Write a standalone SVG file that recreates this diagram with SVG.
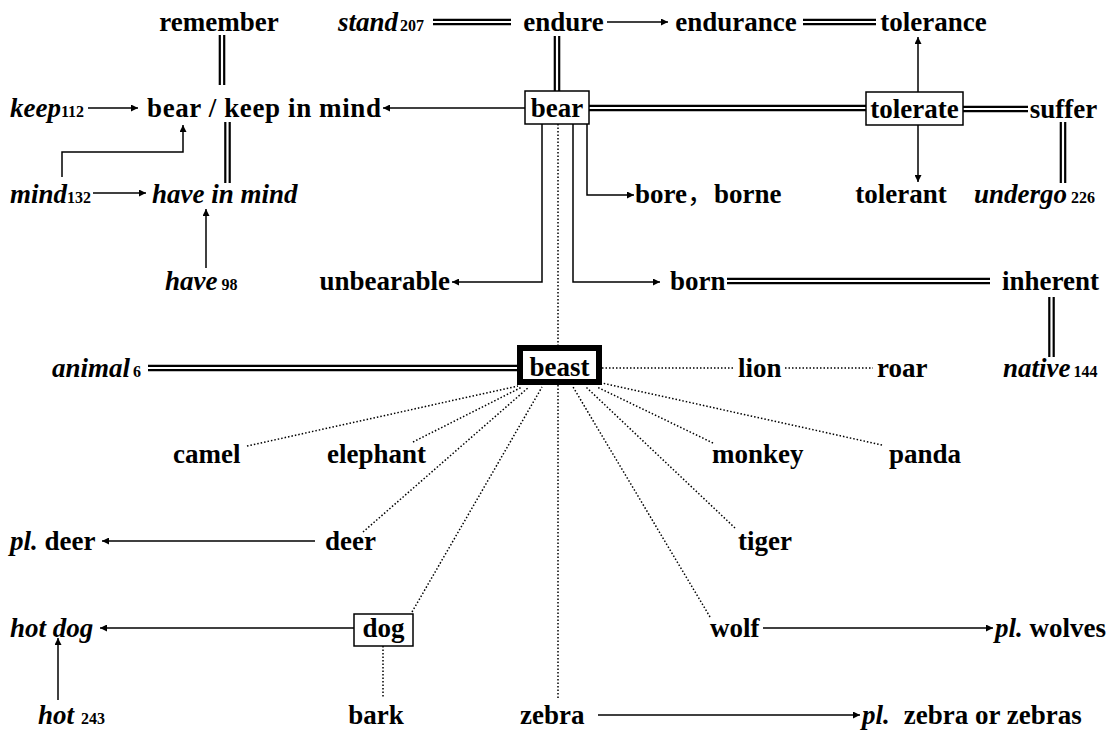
<svg xmlns="http://www.w3.org/2000/svg" width="1109" height="731" viewBox="0 0 1109 731">
<style>
.t{font-family:"Liberation Serif","Times New Roman",serif;font-weight:bold;font-size:27px;fill:#000}
.i{font-style:italic}
.n{font-size:16px;font-style:normal}
.ln{stroke:#000;stroke-width:1.5;fill:none}
.dl{stroke:#000;stroke-width:2.2;fill:none}
.dot{stroke:#000;stroke-width:1.5;stroke-dasharray:1.5 2;fill:none}
.box{fill:#fff;stroke:#000;stroke-width:1.5}
.arr{marker-end:url(#ah)}
</style>
<defs>
<marker id="ah" viewBox="0 0 10 10" refX="10" refY="5" markerWidth="8" markerHeight="7" markerUnits="userSpaceOnUse" orient="auto">
<path d="M0,0 L10,5 L0,10 z" fill="#000"/>
</marker>
</defs>
<rect width="1109" height="731" fill="#fff"/>
<g id="connectors">
<path class="dl" d="M433 19.8H511M433 24.2H511"/>
<path class="dl" d="M803 19.8H876M803 24.2H876"/>
<path class="dl" d="M589 105.8H866M589 110.2H866"/>
<path class="dl" d="M963 106.8H1028M963 111.2H1028"/>
<path class="dl" d="M727 278.8H990M727 283.2H990"/>
<path class="dl" d="M148 365.8H517M148 370.2H517"/>
<path class="dl" d="M219.8 35V85M224.2 35V85"/>
<path class="dl" d="M225.3 122V183M229.7 122V183"/>
<path class="dl" d="M554.8 36V91M559.2 36V91"/>
<path class="dl" d="M1060.8 122V183M1065.2 122V183"/>
<path class="dl" d="M1049.3 297V357M1053.7 297V357"/>
<path class="ln arr" d="M607 22H668"/>
<path class="ln arr" d="M88 108H138"/>
<path class="ln arr" d="M525 108H383"/>
<path class="ln arr" d="M918 92V37"/>
<path class="ln arr" d="M918 125V182"/>
<path class="ln arr" d="M93 193H146"/>
<path class="ln arr" d="M62 177V152H183V125"/>
<path class="ln arr" d="M587 124V195H634"/>
<path class="ln arr" d="M206 268V209"/>
<path class="ln arr" d="M542 124V282H452"/>
<path class="ln arr" d="M573 124V282H660"/>
<path class="ln arr" d="M315 541H102"/>
<path class="ln arr" d="M354 628H100"/>
<path class="ln arr" d="M58 700V638"/>
<path class="ln arr" d="M763 628H993"/>
<path class="ln arr" d="M598 715H860"/>
<path class="dot" d="M558 124V345M558 385V698"/>
<path class="dot" d="M602 368H733M785 368H873"/>
<path class="dot" d="M247 446L518 386"/>
<path class="dot" d="M413 442L522 387"/>
<path class="dot" d="M363 532L529 387"/>
<path class="dot" d="M412 612L542 387"/>
<path class="dot" d="M710 617L573 387"/>
<path class="dot" d="M735 528L586 387"/>
<path class="dot" d="M713 443L597 387"/>
<path class="dot" d="M882 445L602 383"/>
<path class="dot" d="M383 646V698"/>
</g>
<g id="n-remember"><text class="t" x="219" y="31" text-anchor="middle">remember</text></g>
<g id="n-stand"><text class="t" x="338" y="31"><tspan class="i">stand</tspan><tspan class="n" dx="2">207</tspan></text></g>
<g id="n-endure"><text class="t" x="563.5" y="31" text-anchor="middle">endure</text></g>
<g id="n-endurance"><text class="t" x="736" y="31" text-anchor="middle">endurance</text></g>
<g id="n-tolerance"><text class="t" x="933.5" y="31" text-anchor="middle">tolerance</text></g>
<g id="n-keep"><text class="t" x="10" y="117"><tspan class="i">keep</tspan><tspan class="n">112</tspan></text></g>
<g id="n-bearkeep"><text class="t" x="147" y="117" textLength="234">bear / keep in mind</text></g>
<g id="n-bear"><rect class="box" x="525" y="91" width="64" height="33"/><text class="t" x="557" y="117" text-anchor="middle">bear</text></g>
<g id="n-tolerate"><rect class="box" x="866" y="92" width="97" height="33"/><text class="t" x="914.5" y="118" text-anchor="middle">tolerate</text></g>
<g id="n-suffer"><text class="t" x="1063.5" y="118" text-anchor="middle">suffer</text></g>
<g id="n-mind"><text class="t" x="10" y="203"><tspan class="i">mind</tspan><tspan class="n">132</tspan></text></g>
<g id="n-haveinmind"><text class="t i" x="152" y="203">have in mind</text></g>
<g id="n-bore"><text class="t" x="635" y="203">bore<tspan font-family="'Noto Sans CJK SC',sans-serif" font-weight="normal">，</tspan>borne</text></g>
<g id="n-tolerant"><text class="t" x="901" y="203" text-anchor="middle">tolerant</text></g>
<g id="n-undergo"><text class="t" x="974" y="203"><tspan class="i">undergo</tspan><tspan class="n" dx="4">226</tspan></text></g>
<g id="n-have"><text class="t" x="165" y="290"><tspan class="i">have</tspan><tspan class="n" dx="4">98</tspan></text></g>
<g id="n-unbearable"><text class="t" x="450" y="290" text-anchor="end">unbearable</text></g>
<g id="n-born"><text class="t" x="670" y="290">born</text></g>
<g id="n-inherent"><text class="t" x="1002" y="290">inherent</text></g>
<g id="n-animal"><text class="t" x="52" y="377"><tspan class="i">animal</tspan><tspan class="n" dx="3">6</tspan></text></g>
<g id="n-beast"><rect x="520" y="348" width="79" height="34" fill="#fff" stroke="#000" stroke-width="6"/><text class="t" x="559.5" y="376" text-anchor="middle">beast</text></g>
<g id="n-lion"><text class="t" x="738" y="377">lion</text></g>
<g id="n-roar"><text class="t" x="877" y="377">roar</text></g>
<g id="n-native"><text class="t" x="1003" y="377"><tspan class="i">native</tspan><tspan class="n" dx="3">144</tspan></text></g>
<g id="n-camel"><text class="t" x="173" y="463">camel</text></g>
<g id="n-elephant"><text class="t" x="327" y="463">elephant</text></g>
<g id="n-monkey"><text class="t" x="712" y="463">monkey</text></g>
<g id="n-panda"><text class="t" x="889" y="463">panda</text></g>
<g id="n-pldeer"><text class="t" x="10" y="550"><tspan class="i">pl.</tspan> deer</text></g>
<g id="n-deer"><text class="t" x="325" y="550">deer</text></g>
<g id="n-tiger"><text class="t" x="738" y="550">tiger</text></g>
<g id="n-hotdog"><text class="t i" x="10" y="637">hot dog</text></g>
<g id="n-dog"><rect class="box" x="354" y="614" width="59" height="32"/><text class="t" x="383.5" y="637" text-anchor="middle">dog</text></g>
<g id="n-wolf"><text class="t" x="710" y="637">wolf</text></g>
<g id="n-plwolves"><text class="t" x="995" y="637"><tspan class="i">pl.</tspan> wolves</text></g>
<g id="n-hot"><text class="t" x="38" y="724"><tspan class="i">hot</tspan><tspan class="n" dx="7">243</tspan></text></g>
<g id="n-bark"><text class="t" x="376" y="724" text-anchor="middle">bark</text></g>
<g id="n-zebra"><text class="t" x="520" y="724">zebra</text></g>
<g id="n-plzebra"><text class="t" x="862" y="724"><tspan class="i">pl.</tspan><tspan dx="14">zebra or zebras</tspan></text></g>
</svg>
